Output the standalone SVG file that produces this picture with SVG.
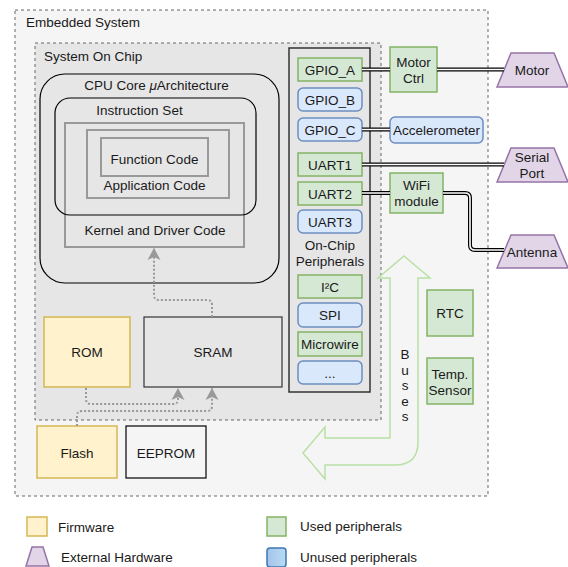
<svg xmlns="http://www.w3.org/2000/svg" width="568" height="567" viewBox="0 0 568 567">
<style>
text{font-family:"Liberation Sans",Arial,Helvetica,sans-serif;font-size:13.5px;fill:#1a1a1a;}
.c{text-anchor:middle;}
.dash{stroke:#666;stroke-width:1;stroke-dasharray:3 3;}
.used{fill:#d5e8d4;stroke:#82b366;stroke-width:1.5;}
.unused{fill:#dae8fc;stroke:#6c8ebf;stroke-width:1.5;}
.fw{fill:#fff2cc;stroke:#d6b656;stroke-width:1.5;}
.ext{fill:#e1d5e7;stroke:#9673a6;stroke-width:1.5;}
.code{fill:none;stroke:#999;stroke-width:2;}
.linkO{fill:none;stroke:#000;stroke-width:4;}
.linkI{fill:none;stroke:#fff;stroke-width:1.6;}
.dot{fill:none;stroke:#999;stroke-width:2;stroke-dasharray:2 2;}
</style>
<defs>
<marker id="ah" markerUnits="userSpaceOnUse" markerWidth="14" markerHeight="14" refX="12" refY="7" orient="auto">
<path d="M0,0.5 L12,7 L0,13.5 L3,7 z" fill="#999"/>
</marker>
<linearGradient id="ug" x1="0" y1="0" x2="1" y2="0">
<stop offset="0" stop-color="#a6c3ec"/>
<stop offset="1" stop-color="#b6dbf2"/>
</linearGradient>
</defs>

<g id="embedded-system">
<rect x="15" y="10" width="473" height="486" fill="#f5f5f5" class="dash"/>
<text x="26" y="27">Embedded System</text>
</g>

<g id="system-on-chip">
<rect x="35" y="43" width="346" height="377" fill="#e6e6e6" class="dash"/>
<text x="44" y="61">System On Chip</text>
</g>

<g id="cpu-core">
<rect x="40" y="74" width="239" height="209" rx="25" fill="none" stroke="#000" stroke-width="1.2"/>
<text class="c" x="156.5" y="90">CPU Core <tspan font-style="italic">μ</tspan>Architecture</text>
</g>

<g id="kernel-driver-code">
<rect x="65" y="123" width="179" height="124" class="code"/>
<text class="c" x="155" y="235">Kernel and Driver Code</text>
</g>

<g id="application-code">
<rect x="87" y="130" width="142" height="68" class="code"/>
<text class="c" x="154.5" y="190">Application Code</text>
</g>

<g id="function-code">
<rect x="101" y="138" width="107" height="38" class="code"/>
<text class="c" x="154.5" y="164">Function Code</text>
</g>

<g id="instruction-set">
<rect x="55" y="98" width="201" height="117" rx="15" fill="none" stroke="#000" stroke-width="1.2"/>
<text class="c" x="139.5" y="115">Instruction Set</text>
</g>

<g id="rom">
<rect x="44" y="317" width="86" height="70" class="fw"/>
<text class="c" x="87" y="357">ROM</text>
</g>

<g id="sram">
<rect x="144" y="317" width="138" height="70" fill="#e6e6e6" stroke="#333" stroke-width="1.2"/>
<text class="c" x="213" y="357">SRAM</text>
</g>

<g id="flash">
<rect x="37" y="426" width="80" height="52" class="fw"/>
<text class="c" x="77" y="458">Flash</text>
</g>

<g id="eeprom">
<rect x="126" y="426" width="80" height="52" fill="#f5f5f5" stroke="#000" stroke-width="1.2"/>
<text class="c" x="166" y="458">EEPROM</text>
</g>

<g id="on-chip-peripherals">
<rect x="289" y="48" width="81" height="344" fill="#e6e6e6" stroke="#333" stroke-width="1.5"/>
<text class="c" x="330" y="250">On-Chip</text>
<text class="c" x="330" y="266">Peripherals</text>
</g>

<g id="gpio-a"><rect x="298" y="58" width="64" height="23" class="used"/><text class="c" x="330" y="74.5">GPIO_A</text></g>
<g id="gpio-b"><rect x="298" y="88" width="64" height="23" rx="5" class="unused"/><text class="c" x="330" y="104.5">GPIO_B</text></g>
<g id="gpio-c"><rect x="298" y="118" width="64" height="23" rx="5" class="unused"/><text class="c" x="330" y="134.5">GPIO_C</text></g>
<g id="uart1"><rect x="298" y="153" width="64" height="23" class="used"/><text class="c" x="330" y="169.5">UART1</text></g>
<g id="uart2"><rect x="298" y="182" width="64" height="23" class="used"/><text class="c" x="330" y="198.5">UART2</text></g>
<g id="uart3"><rect x="298" y="210" width="64" height="23" rx="5" class="unused"/><text class="c" x="330" y="226.5">UART3</text></g>
<g id="i2c"><rect x="298" y="275" width="64" height="23" class="used"/><text class="c" x="330" y="291.5">I²C</text></g>
<g id="spi"><rect x="298" y="303" width="64" height="24" rx="5" class="unused"/><text class="c" x="330" y="320">SPI</text></g>
<g id="microwire"><rect x="298" y="332" width="64" height="24" class="used"/><text class="c" x="330" y="349">Microwire</text></g>
<g id="more"><rect x="298" y="361" width="64" height="23" rx="5" class="unused"/><text class="c" x="330" y="377.5">...</text></g>

<g id="motor-ctrl"><rect x="390" y="47" width="47" height="45" class="used"/><text class="c" x="413.5" y="67">Motor</text><text class="c" x="413.5" y="83">Ctrl</text></g>
<g id="accelerometer"><rect x="390" y="117" width="93" height="26" rx="5" class="unused"/><text class="c" x="436.5" y="135">Accelerometer</text></g>
<g id="wifi-module"><rect x="390" y="173" width="53" height="40" class="used"/><text class="c" x="416.5" y="190">WiFi</text><text class="c" x="416.5" y="206">module</text></g>
<g id="rtc"><rect x="427" y="290" width="46" height="46" class="used"/><text class="c" x="450" y="318">RTC</text></g>
<g id="temp-sensor"><rect x="427" y="358" width="46" height="46" class="used"/><text class="c" x="450" y="379">Temp.</text><text class="c" x="450" y="395">Sensor</text></g>

<g id="motor"><polygon points="497,87 511,53 554,53 568,87" class="ext"/><text class="c" x="532" y="75">Motor</text></g>
<g id="serial-port"><polygon points="497,182 511,148 554,148 568,182" class="ext"/><text class="c" x="532" y="162">Serial</text><text class="c" x="532" y="178">Port</text></g>
<g id="antenna"><polygon points="497,268 511,235 554,235 568,268" class="ext"/><text class="c" x="532" y="257">Antenna</text></g>

<g id="buses">
<path d="M404,256 L430,278 L418,278 L418,442 Q418,465 395,465 L325,465 L325,479 L303,453 L325,427 L325,438 L390,438 L390,278 L378,278 Z" fill="none" stroke="#b9e0a5" stroke-width="1.5"/>
<text class="c" x="405" y="359">B</text>
<text class="c" x="405" y="374.5">u</text>
<text class="c" x="405" y="390">s</text>
<text class="c" x="405" y="405.5">e</text>
<text class="c" x="405" y="421">s</text>
</g>

<g id="connectors">
<path class="dot" d="M212,317 L212,305 Q212,300 207,300 L159,300 Q154,300 154,295 L154,248" marker-end="url(#ah)"/>
<path class="dot" d="M86,388 L86,399 Q86,404 91,404 L173,404 Q178,404 178,399 L178,388" marker-end="url(#ah)"/>
<path class="dot" d="M77,426 L77,416 Q77,411 82,411 L207,411 Q212,411 212,406 L212,388" marker-end="url(#ah)"/>
<g class="links">
<path class="linkO" d="M362,69.5 H390 M437,69.5 H504 M362,129.5 H390 M362,164.5 H504 M362,193 H390 M443,193 H465 Q470,193 470,198 V245 Q470,250 475,250 H504"/>
<path class="linkI" d="M362,69.5 H390 M437,69.5 H504 M362,129.5 H390 M362,164.5 H504 M362,193 H390 M443,193 H465 Q470,193 470,198 V245 Q470,250 475,250 H504"/>
</g>
</g>

<g id="legend">
<rect x="27" y="517" width="20" height="19" class="fw"/>
<text x="58" y="532">Firmware</text>
<polygon points="26,566 32,547 43,547 49,566" class="ext"/>
<text x="61" y="562">External Hardware</text>
<rect x="267" y="517" width="19" height="19" class="used"/>
<text x="300" y="531">Used peripherals</text>
<rect x="267" y="548" width="19" height="19" rx="3" fill="url(#ug)" stroke="#3d78b0" stroke-width="1.5"/>
<text x="300" y="562">Unused peripherals</text>
</g>
</svg>
